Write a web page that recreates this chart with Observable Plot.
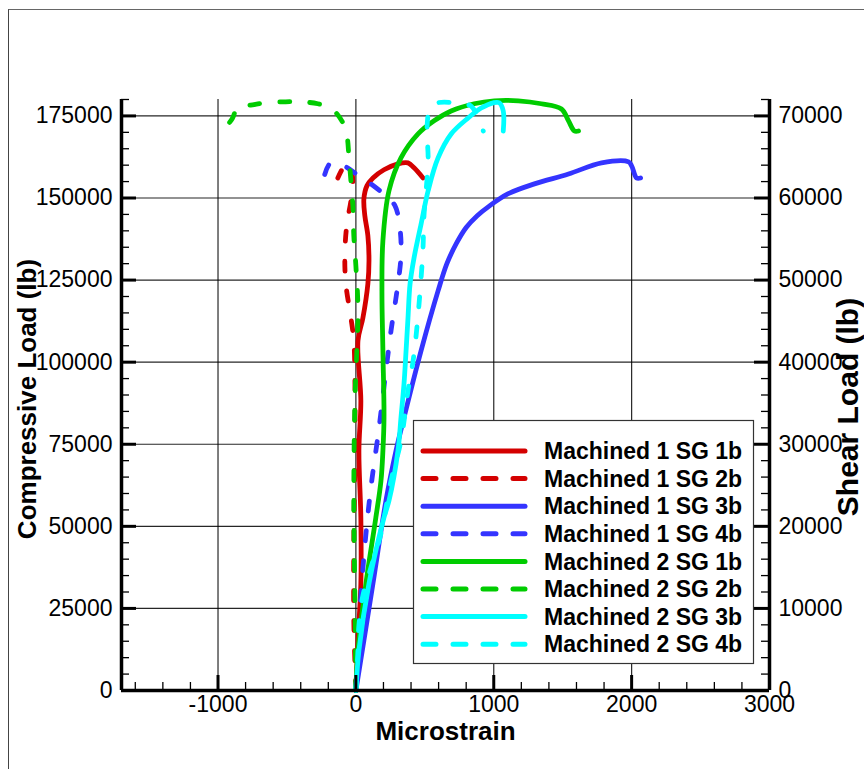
<!DOCTYPE html>
<html><head><meta charset="utf-8">
<script src="https://cdn.jsdelivr.net/npm/d3@7"></script>
<script src="https://cdn.jsdelivr.net/npm/@observablehq/plot@0.6"></script>
<style>
body{margin:0;background:#fff;}
#wrap{position:relative;width:864px;height:769px;overflow:hidden;background:#fff;}
#border{position:absolute;left:8px;top:9px;width:900px;height:800px;border-left:1.5px solid #444;border-top:1.5px solid #666;}
#wrap svg{position:absolute;left:0;top:0;}
</style></head><body><div id="wrap"><div id="border"></div></div>
<script>
// ---------- axes ----------
const xDomain = [-1700, 3000];
const yDomain = [0, 180000];
const xMajor = [-1000, 0, 1000, 2000, 3000];
const xGrid = [-1000, 0, 1000, 2000];
const xMinor = [-1600,-1400,-1200,-1000,-800,-600,-400,-200,0,200,400,600,800,1000,1200,1400,1600,1800,2000,2200,2400,2600,2800,3000];
const yMajor = [0,25000,50000,75000,100000,125000,150000,175000];
const yGrid = [25000,50000,75000,100000,125000,150000,175000];
const yMinor = [5000,10000,15000,20000,25000,30000,35000,40000,45000,50000,55000,60000,65000,70000,75000,80000,85000,90000,95000,100000,105000,110000,115000,120000,125000,130000,135000,140000,145000,150000,155000,160000,165000,170000,175000,180000];
const shearRatio = 0.4;
const xTitle = "Microstrain";
const yTitle = "Compressive Load (lb)";
const y2Title = "Shear Load (lb)";

// ---------- series ----------
const seriesNames = ["Machined 1 SG 1b","Machined 1 SG 2b","Machined 1 SG 3b","Machined 1 SG 4b","Machined 2 SG 1b","Machined 2 SG 2b","Machined 2 SG 3b","Machined 2 SG 4b"];
const seriesColors = ["#d40000","#d40000","#3434ff","#3434ff","#00cc00","#00cc00","#00ffff","#00ffff"];
const seriesDashed = [false,true,false,true,false,true,false,true];

const m1sg1bStrain = [0, 15, 36, 36, 22, 36, 15, 51, 87, 95, 87, 65, 58, 80, 124, 204, 305, 378, 422, 487];
const m1sg1bLoad   = [0, 15200, 32600, 52600, 73000, 88300, 106500, 113500, 123900, 130900, 138500, 144600, 149700, 153700, 156100, 158600, 160400, 160700, 159200, 156100];

const m1sg2bStrain = [0, -15, -15, -7, -7, -15, -36, -73, -80, -65, -36, -22, -36, -65, -131];
const m1sg2bLoad   = [0, 21300, 45600, 73000, 94300, 106500, 113500, 123900, 133000, 142100, 149100, 155200, 158600, 160700, 156100];

const m1sg3bStrain = [0, 58, 124, 218, 291, 349, 473, 596, 660, 727, 800, 880, 960, 1105, 1295, 1542, 1782, 1978, 2000, 2036, 2065];
const m1sg3bLoad   = [0, 15200, 32600, 57800, 73000, 83100, 103500, 121700, 130000, 136000, 141000, 144600, 147300, 151300, 154300, 157300, 160700, 161000, 159800, 156100, 156100];

const m1sg4bStrain = [0, 29, 65, 109, 167, 218, 255, 298, 327, 320, 284, 218, 109, 22, -73, -182, -233];
const m1sg4bLoad   = [0, 24300, 44100, 61800, 79700, 97400, 109600, 121700, 132400, 140600, 147600, 150600, 154300, 156700, 159500, 160700, 156100];

const m2sg1bStrain = [0, 15, 73, 145, 182, 196, 204, 196, 189, 196, 240, 327, 451, 567, 691, 858, 1004, 1178, 1345, 1491, 1542, 1585, 1615];
const m2sg1bLoad   = [0, 12200, 32600, 52700, 63900, 73000, 83100, 103500, 121700, 137000, 152200, 162200, 169500, 173500, 176500, 178700, 179600, 179600, 178700, 177100, 173500, 170400, 170400];

const m2sg2bStrain = [0, -7, -15, -7, 15, 0, -15, -22, -36, -51, -65, -102, -182, -276, -400, -509, -655, -764, -858, -895, -967];
const m2sg2bLoad   = [0, 27400, 57800, 88300, 115700, 129300, 138500, 147600, 155200, 162800, 168900, 173500, 177400, 178700, 179300, 179300, 179000, 178300, 177700, 174300, 170400];

const m2sg3bStrain = [0, 22, 95, 204, 240, 305, 327, 349, 364, 378, 393, 422, 473, 524, 596, 691, 815, 909, 996, 1040, 1069, 1069];
const m2sg3bLoad   = [0, 12200, 32600, 52700, 57800, 73000, 83100, 93400, 103500, 113500, 123900, 131800, 142100, 152200, 162200, 169500, 174400, 177400, 179000, 179000, 176500, 170400];

const m2sg4bStrain = [0, 15, 22, 51, 109, 182, 255, 327, 378, 415, 444, 473, 487, 494, 524, 516, 538, 596, 764, 836, 895, 924];
const m2sg4bLoad   = [0, 12200, 19800, 28900, 37400, 47800, 63900, 76100, 91300, 100400, 111100, 125700, 134800, 144600, 161300, 171400, 177100, 179000, 178700, 178000, 173500, 170400];

const seriesStrain = [m1sg1bStrain, m1sg2bStrain, m1sg3bStrain, m1sg4bStrain, m2sg1bStrain, m2sg2bStrain, m2sg3bStrain, m2sg4bStrain];
const seriesLoad = [m1sg1bLoad, m1sg2bLoad, m1sg3bLoad, m1sg4bLoad, m2sg1bLoad, m2sg2bLoad, m2sg3bLoad, m2sg4bLoad];

// ---------- layout ----------
const W = 864, H = 769, mL = 121, mR = 95, mT = 99, mB = 79;
const fw = W - mL - mR, fh = H - mT - mB;
const FONT = "'Liberation Sans', Arial, Helvetica, sans-serif";

const lineMarks = seriesNames.map((name, i) => {
  const rows = seriesStrain[i].map((s, j) => ({strain: s, load: seriesLoad[i][j]}));
  return Plot.line(rows, {
    x: "strain", y: "load", stroke: seriesColors[i], strokeWidth: 4.8,
    strokeDasharray: seriesDashed[i] ? "10,20" : null,
    strokeLinecap: "round", strokeLinejoin: "round", curve: "catmull-rom"
  });
});

const gridStyle = {stroke: "#000", strokeOpacity: 0.85, strokeWidth: 1.2};

const chart = Plot.plot({
  width: W, height: H,
  marginLeft: mL, marginRight: mR, marginTop: mT, marginBottom: mB,
  style: {fontFamily: FONT, fontSize: "23px", color: "#000", background: "transparent", overflow: "visible"},
  x: {domain: xDomain},
  y: {domain: yDomain},
  marks: [
    Plot.gridX(xGrid, gridStyle),
    Plot.gridY(yGrid, gridStyle),
    ...lineMarks,
    Plot.ruleY([yDomain[0]], {stroke: "#000", strokeWidth: 3.5}),
    Plot.ruleX([xDomain[0]], {stroke: "#000", strokeWidth: 3.5}),
    Plot.ruleX([xDomain[1]], {stroke: "#000", strokeWidth: 3.5}),
    Plot.tickX(xMajor, {x: d => d, insetTop: fh - 15, stroke: "#000", strokeWidth: 3}),
    Plot.tickX(xMinor, {x: d => d, insetTop: fh - 8, stroke: "#000", strokeWidth: 1.3}),
    Plot.tickY(yMajor, {y: d => d, insetRight: fw - 15, stroke: "#000", strokeWidth: 3}),
    Plot.tickY(yMinor, {y: d => d, insetRight: fw - 8, stroke: "#000", strokeWidth: 1.3}),
    Plot.tickY(yMajor, {y: d => d, insetLeft: fw - 15, stroke: "#000", strokeWidth: 3}),
    Plot.tickY(yMinor, {y: d => d, insetLeft: fw - 8, stroke: "#000", strokeWidth: 1.3}),
    Plot.axisX({ticks: xMajor, tickSize: 0, tickPadding: 5, tickFormat: d => String(d), label: null}),
    Plot.axisY({anchor: "left", ticks: yMajor, tickSize: 0, tickPadding: 9, tickFormat: d => String(d), label: null}),
    Plot.axisY({anchor: "right", ticks: yMajor, tickSize: 0, tickPadding: 9, tickFormat: d => String(Math.round(d * shearRatio)), label: null}),
    Plot.text([xTitle], {frameAnchor: "bottom", dy: 49, fontSize: 26, fontWeight: "bold", textAnchor: "middle"}),
    Plot.text([yTitle], {frameAnchor: "left", rotate: -90, dx: -94, dy: 4, fontSize: 26, fontWeight: "bold", textAnchor: "middle"}),
    Plot.text([y2Title], {frameAnchor: "right", rotate: -90, dx: 79, dy: 12, fontSize: 30, fontWeight: "bold", textAnchor: "middle"})
  ]
});

// ---------- legend ----------
const svg = d3.select(chart);
const lg = svg.append("g").attr("font-family", FONT).attr("text-anchor", "start");
lg.append("rect").attr("x", 413.5).attr("y", 420.5).attr("width", 340).attr("height", 243)
  .attr("fill", "#fff").attr("stroke", "#333").attr("stroke-width", 1.2);
seriesNames.forEach((name, i) => {
  const cy = 451 + i * 27.6;
  lg.append("line").attr("x1", 423).attr("x2", 525).attr("y1", cy).attr("y2", cy)
    .attr("stroke", seriesColors[i]).attr("stroke-width", 5).attr("stroke-linecap", "round")
    .attr("stroke-dasharray", seriesDashed[i] ? "13,17" : null);
  lg.append("text").attr("x", 544).attr("y", cy).attr("dy", "0.36em").attr("text-anchor", "start")
    .attr("font-size", 23).attr("font-weight", "bold").attr("fill", "#000").text(name);
});

document.getElementById("wrap").appendChild(chart);
</script>
</body></html>
